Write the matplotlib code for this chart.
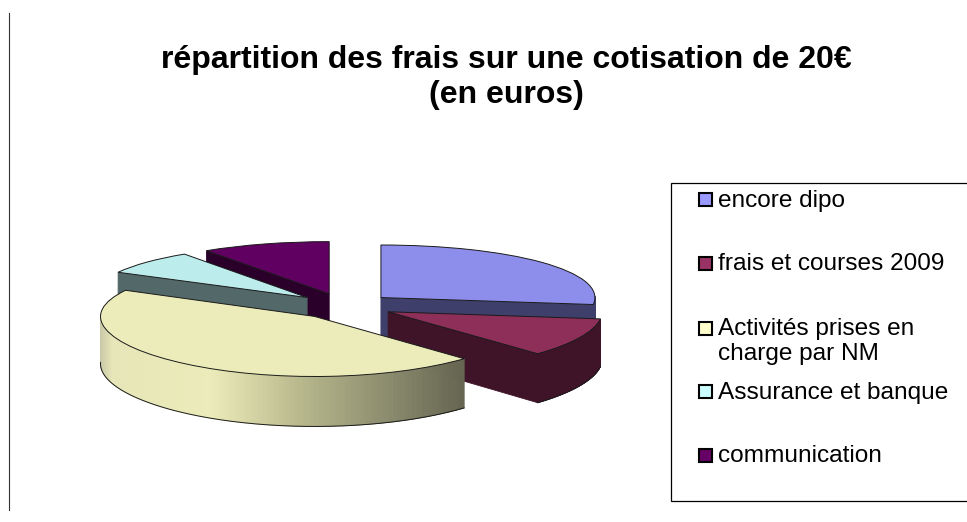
import numpy as np
import matplotlib
matplotlib.use("Agg")
import matplotlib.pyplot as plt
from matplotlib.patches import Polygon, Rectangle
from matplotlib.transforms import Transform

# Data (euros out of a 20 EUR fee)
categories = ["encore dipo", "frais et courses 2009",
              "Activités prises en\ncharge par NM", "Assurance et banque", "communication"]
values = [5.39, 2.13, 9.0, 1.5, 1.94]
title = "répartition des frais sur une cotisation de 20€\n(en euros)"

# Styles
top_colors = ["#8D8DEB", "#8E2F5A", "#ECECBA", "#BCECEC", "#600060"]
wall_colors = ["#3F3F6B", "#3F1428", "#ECECBA", "#536868", "#2A002A"]
legend_colors = ["#9999FF", "#993366", "#FFFFCC", "#CCFFFF", "#660066"]
legend_y = [199, 263, 328, 391, 455]
draw_order = [4, 3, 0, 1, 2]
CX, CY, A, B, K, DEPTH = 344, 306, 214, 56, 0.05, 47
EXPLODE = 0.23

plt.rcParams["font.family"] = ["Liberation Sans", "DejaVu Sans"]
fig = plt.figure(figsize=(9.67, 5.22), dpi=100)
ax = fig.add_axes([0, 0, 1, 1])


def project(X, Y, z=0.0):
    s = 1.0 / (1.0 + K * np.asarray(Y))
    return CX + A * np.asarray(X), CY - B * np.asarray(Y) * s + z * DEPTH * s


class Persp(Transform):
    input_dims = output_dims = 2
    is_separable = False
    has_inverse = False

    def transform_non_affine(self, v):
        v = np.asarray(v)
        x, y = project(v[:, 0], v[:, 1])
        return np.column_stack([x, y])


wedges, _ = ax.pie(values, explode=[EXPLODE] * len(values), startangle=90, counterclock=False,
                   colors=top_colors, wedgeprops=dict(edgecolor="#1a1a1a", linewidth=0.7))
ax.set_aspect("auto")
ax.set_xlim(0, 967)
ax.set_ylim(522, 0)
ax.axis("off")
persp = Persp()


def quad(p, q, color, z):
    xs0, ys0 = project(p[0], p[1], 0)
    xs1, ys1 = project(q[0], q[1], 0)
    xb0, yb0 = project(p[0], p[1], 1)
    xb1, yb1 = project(q[0], q[1], 1)
    ax.add_patch(Polygon([(xs0, ys0), (xs1, ys1), (xb1, yb1), (xb0, yb0)], closed=True,
                         facecolor=color, edgecolor=color, linewidth=0.6, zorder=z))


def yellow_grad(xpx):
    stops_x = [100, 112, 210, 300, 380, 460]
    stops = [(0.78, 0.78, 0.66), (0.90, 0.90, 0.72), (0.925, 0.925, 0.73),
             (0.72, 0.72, 0.55), (0.56, 0.56, 0.44), (0.40, 0.40, 0.32)]
    return tuple(np.interp(xpx, stops_x, [c[i] for c in stops]) for i in range(3))


z = 2
for i in draw_order:
    w = wedges[i]
    cx, cy = w.center
    r, t1, t2 = w.r, w.theta1, w.theta2
    wall = wall_colors[i]
    # radial walls, only those turned towards the viewer
    for t, normal in ((t1, t1 - 90), (t2, t2 + 90)):
        if np.sin(np.radians(normal)) < -0.02 and i != 2:
            e = (cx + r * np.cos(np.radians(t)), cy + r * np.sin(np.radians(t)))
            quad((cx, cy), e, wall, z)
            z += 1
    # outer wall, front part only
    ts = np.radians(np.linspace(t1, t2, 240))
    xs, ys = cx + r * np.cos(ts), cy + r * np.sin(ts)
    for j in range(len(ts) - 1):
        if np.sin(ts[j]) < 0.03 or np.sin(ts[j + 1]) < 0.03:
            color = wall
            if i == 2:
                color = yellow_grad(project(xs[j], ys[j])[0])
            quad((xs[j], ys[j]), (xs[j + 1], ys[j + 1]), color, z)
    z += 1
    # outline of the lower outer rim
    mask = np.sin(ts) < 0.03
    xb, yb = project(xs[mask], ys[mask], 1)
    ax.plot(xb, yb, color="#1a1a1a", lw=0.7, zorder=z)
    z += 1
    w.set_transform(persp + ax.transData)
    w.set_zorder(z)
    z += 1

# Title
ax.text(506, 77.5, title, ha="center", va="center", fontsize=23, fontweight="bold",
        color="black", linespacing=1.22, zorder=50)

# Frame line on the left and legend box
ax.plot([9, 9], [13, 510], color="#333333", lw=0.8, zorder=50)
ax.add_patch(Rectangle((670.5, 182.5), 310, 318.5, facecolor="white", edgecolor="black",
                       linewidth=0.9, zorder=50))
for name, col, y in zip(categories, legend_colors, legend_y):
    ax.add_patch(Rectangle((699, y - 6), 12.5, 12.5, facecolor=col, edgecolor="black",
                           linewidth=1.5, zorder=51))
    ax.text(718, y - 9.5, name, ha="left", va="top", fontsize=17.6, color="black",
            linespacing=1.14, zorder=51, clip_on=False)

fig.savefig("out.png", dpi=100)
